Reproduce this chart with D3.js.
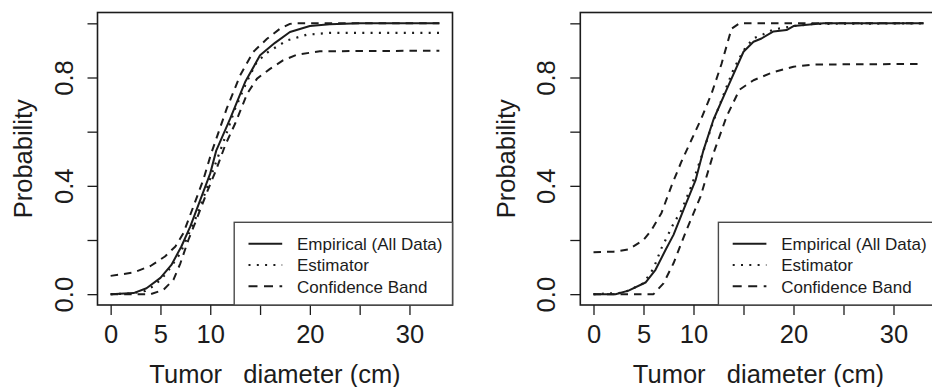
<!DOCTYPE html>
<html><head><meta charset="utf-8">
<script src="https://cdn.jsdelivr.net/npm/d3@7"></script>
<style>html,body{margin:0;padding:0;background:#fff;} svg{display:block;}</style>
</head><body>
<svg id="chart" width="932" height="387"></svg>
<script>
// ---------- data ----------
const xTicks = [0, 5, 10, 15, 20, 25, 30];
const xTickLabels = ["0", "5", "10", "", "20", "", "30"];
const yTicks = [0, 0.2, 0.4, 0.6, 0.8, 1.0];
const yTickLabels = ["0.0", "", "0.4", "", "0.8", ""];
const xDataRange = [0, 33];
const yDataRange = [0, 1];
const legendLabels = ["Empirical (All Data)", "Estimator", "Confidence Band"];
const xTitle = "Tumor   diameter (cm)";
const yTitle = "Probability";

// left panel
const leftEmpirical = [[0,0],[2.3,0.004],[3.6,0.022],[5,0.06],[6.1,0.108],[7.1,0.176],[8,0.25],[9,0.348],[10,0.446],[10.6,0.53],[12,0.648],[13.5,0.783],[15,0.882],[16.5,0.928],[18,0.968],[20,0.99],[22,0.997],[25,1],[33,1]];
const leftEstimator = [[0,0],[2,0.002],[3.5,0.012],[4.5,0.035],[5.6,0.077],[7,0.151],[7.8,0.219],[8.6,0.286],[9.6,0.385],[10.3,0.459],[11.5,0.58],[12.5,0.685],[13.65,0.783],[14.66,0.857],[15.8,0.894],[17.7,0.937],[19.7,0.958],[22,0.965],[33,0.965]];
const leftUpper = [[0,0.0675],[2.3,0.08],[4,0.104],[5.45,0.139],[6.5,0.176],[7.3,0.225],[8.3,0.323],[9.3,0.422],[10.1,0.52],[11.65,0.685],[13,0.808],[14.3,0.894],[15.7,0.943],[17,0.98],[18,0.998],[18.5,1],[33,1]];
const leftLower = [[0,0],[4,0],[5.3,0.016],[6.3,0.053],[7,0.114],[7.8,0.2],[8.6,0.274],[9.6,0.37],[10.6,0.46],[11.5,0.55],[12.5,0.63],[13.7,0.74],[14.7,0.796],[16,0.832],[17.3,0.863],[18.7,0.884],[21,0.897],[33,0.899]];

// right panel
const rightEmpirical = [[0,0],[2.2,0],[3.5,0.013],[5.2,0.043],[6.2,0.09],[7.2,0.163],[8,0.219],[9.2,0.33],[10.2,0.42],[11,0.532],[12,0.645],[13.3,0.754],[15,0.895],[16,0.932],[16.8,0.944],[18,0.97],[19.3,0.975],[20,0.99],[23,1],[33,1]];
const rightEstimator = [[0,0],[3,0.005],[5,0.04],[6,0.095],[6.8,0.17],[8,0.26],[8.8,0.31],[9.8,0.4],[11,0.53],[12,0.64],[13.3,0.765],[14,0.83],[15,0.9],[16,0.945],[17,0.96],[18,0.977],[20,0.99],[22,0.998],[33,1]];
const rightUpper = [[0,0.155],[2,0.157],[3.5,0.165],[5,0.2],[5.8,0.237],[6.8,0.3],[7.8,0.4],[8.8,0.49],[9.8,0.57],[10.8,0.65],[11.8,0.74],[12.8,0.85],[13.8,0.98],[14.6,1],[33,1]];
const rightLower = [[0,0],[6,0],[7,0.04],[8,0.114],[9.3,0.237],[10.7,0.36],[12,0.52],[13.3,0.655],[14.6,0.755],[16,0.79],[18,0.82],[20,0.84],[22,0.848],[33,0.85]];

// ---------- layout ----------
const FONT = "'Liberation Sans', Arial, Helvetica, sans-serif";
const INK = "#1c1c1c";
const styles = {
  solid:  {dash: null,   width: 2},
  dotted: {dash: "2,6.3", width: 2.2},
  dashed: {dash: "7.5,6", width: 2}
};
const panels = [
  {left: 97.5, right: 452.5, series: [[leftEmpirical,"solid"],[leftEstimator,"dotted"],[leftUpper,"dashed"],[leftLower,"dashed"]]},
  {left: 580.3, right: 936.7, series: [[rightEmpirical,"solid"],[rightEstimator,"dotted"],[rightUpper,"dashed"],[rightLower,"dashed"]]}
];
const plotTop = 12.5, plotBottom = 305;

const svg = d3.select("#chart");
svg.append("rect").attr("width",932).attr("height",387).attr("fill","#fff");

function pad(r){ const d = (r[1]-r[0])*0.04; return [r[0]-d, r[1]+d]; }

panels.forEach(p => {
  const x = d3.scaleLinear().domain(pad(xDataRange)).range([p.left, p.right]);
  const y = d3.scaleLinear().domain(pad(yDataRange)).range([plotBottom, plotTop]);
  const g = svg.append("g");

  // x axis
  const xAxis = d3.axisBottom(x).tickValues(xTicks).tickSize(10).tickSizeOuter(0)
    .tickFormat((d,i) => xTickLabels[i]);
  const gx = g.append("g").attr("transform", `translate(0,${plotBottom})`).call(xAxis);
  gx.select(".domain").remove();
  gx.selectAll(".tick line").attr("stroke", INK).attr("stroke-width", 1.3);
  gx.selectAll(".tick text").attr("fill", INK).attr("font-family", FONT)
    .attr("font-size", "25.5px").attr("dy", null).attr("y", 38);

  // y axis
  const yAxis = d3.axisLeft(y).tickValues(yTicks).tickSize(10).tickSizeOuter(0)
    .tickFormat((d,i) => yTickLabels[i]);
  const gy = g.append("g").attr("transform", `translate(${p.left},0)`).call(yAxis);
  gy.select(".domain").remove();
  gy.selectAll(".tick line").attr("stroke", INK).attr("stroke-width", 1.3);
  gy.selectAll(".tick text").attr("fill", INK).attr("font-family", FONT)
    .attr("font-size", "25.5px").attr("dy", null).attr("x", null)
    .attr("text-anchor", "middle")
    .attr("transform", "translate(-25,0) rotate(-90)");

  // box
  g.append("rect").attr("x", p.left).attr("y", plotTop)
    .attr("width", p.right - p.left).attr("height", plotBottom - plotTop)
    .attr("fill", "none").attr("stroke", INK).attr("stroke-width", 1.6);

  // curves
  const line = d3.line().x(d => x(d[0])).y(d => y(d[1]));
  p.series.forEach(([data, st]) => {
    g.append("path").attr("d", line(data)).attr("fill", "none")
      .attr("stroke", INK).attr("stroke-width", styles[st].width)
      .attr("stroke-dasharray", styles[st].dash)
      .attr("stroke-linejoin", "round");
  });

  // legend
  const legLeft = p.right - 218.3;
  const legTop = 222.3;
  g.append("rect").attr("x", legLeft).attr("y", legTop)
    .attr("width", p.right - legLeft).attr("height", plotBottom - legTop)
    .attr("fill", "#fff").attr("stroke", "#4a4a4a").attr("stroke-width", 1.4);
  const rowsY = [243.8, 265, 286.2];
  const rowStyles = ["solid", "dotted", "dashed"];
  legendLabels.forEach((lab, i) => {
    g.append("line").attr("x1", legLeft + 14.3).attr("x2", legLeft + 48)
      .attr("y1", rowsY[i]).attr("y2", rowsY[i])
      .attr("stroke", INK).attr("stroke-width", styles[rowStyles[i]].width)
      .attr("stroke-dasharray", rowStyles[i] === "dashed" ? "9,6.5" : styles[rowStyles[i]].dash);
    g.append("text").attr("x", legLeft + 62.8).attr("y", rowsY[i] + 6.4)
      .attr("font-family", FONT).attr("font-size", "17px").attr("fill", INK).text(lab);
  });

  // titles
  g.append("text").attr("x", (p.left + p.right) / 2).attr("y", plotBottom + 77.5)
    .attr("text-anchor", "middle").attr("font-family", FONT).attr("font-size", "25.5px")
    .attr("fill", INK).style("white-space", "pre").text(xTitle);
  g.append("text").attr("transform", `translate(${p.left - 65.5},${(plotTop + plotBottom) / 2}) rotate(-90)`)
    .attr("text-anchor", "middle").attr("font-family", FONT).attr("font-size", "25.5px")
    .attr("fill", INK).text(yTitle);
});
</script>
</body></html>
